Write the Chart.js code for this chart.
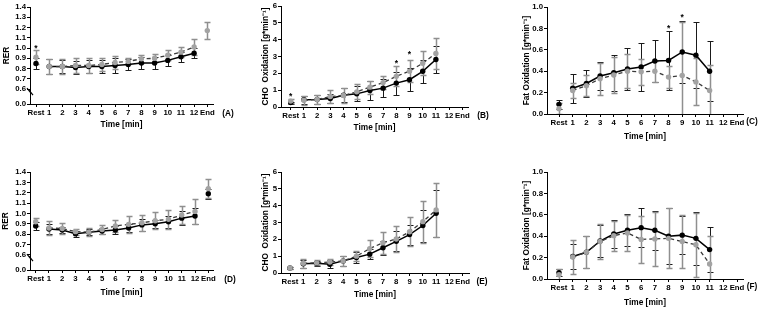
<!DOCTYPE html>
<html>
<head>
<meta charset="utf-8">
<script src="https://cdn.jsdelivr.net/npm/chart.js@4.4.1/dist/chart.umd.min.js"></script>
<style>
  html, body { margin: 0; padding: 0; background: #fff; }
  #wrap { position: relative; width: 760px; height: 310px; overflow: hidden; }
  .panel { position: absolute; }
</style>
</head>
<body>
<div id="wrap"></div>
<script>
// categories on the x axis (same for every panel)
const TIME_LABELS = ['Rest', '1', '2', '3', '4', '5', '6', '7', '8', '9', '10', '11', '12', 'End'];

// y axis ticks
const RER_TICKS = [0.0, 0.6, 0.7, 0.8, 0.9, 1.0, 1.1, 1.2, 1.3, 1.4];
const RER_BREAK = 0.455;          // axis is broken: "0.0" sits here
const CHO_TICKS = [0, 1, 2, 3, 4, 5, 6];
const FAT_TICKS = [0.0, 0.2, 0.4, 0.6, 0.8, 1.0];

// (A) RER, first row
const rerA_black   = [0.85, 0.82, 0.82, 0.81, 0.82, 0.82, 0.83, 0.84, 0.855, 0.855, 0.88, 0.915, 0.95, null];
const rerA_blackSd = [0.05, 0.07, 0.06, 0.06, 0.06, 0.06, 0.07, 0.05, 0.06, 0.06, 0.05, 0.05, 0.05, null];
const rerA_gray    = [0.91, 0.82, 0.82, 0.83, 0.83, 0.84, 0.86, 0.87, 0.895, 0.90, 0.93, 0.96, 1.01, 1.17];
const rerA_graySd  = [0.07, 0.07, 0.07, 0.07, 0.07, 0.06, 0.06, 0.03, 0.04, 0.04, 0.05, 0.05, 0.08, 0.08];
const starsA_idx = [0];
const starsA_y   = [1.01];

// (B) CHO oxidation, first row
const choB_black   = [0.26, 0.43, 0.45, 0.50, 0.70, 0.78, 0.98, 1.12, 1.42, 1.62, 2.12, 2.82, null, null];
const choB_blackSd = [0.06, 0.25, 0.25, 0.25, 0.40, 0.45, 0.55, 0.55, 0.68, 0.68, 0.68, 0.82, null, null];
const choB_gray    = [0.35, 0.40, 0.45, 0.62, 0.68, 0.90, 1.18, 1.45, 1.82, 2.13, 2.60, 3.18, null, null];
const choB_graySd  = [0.12, 0.28, 0.28, 0.38, 0.42, 0.45, 0.38, 0.40, 0.60, 0.65, 0.72, 0.90, null, null];
const starsB_idx = [0, 8, 9];
const starsB_y   = [0.75, 2.68, 3.25];

// (C) Fat oxidation, first row
const fatC_black   = [0.09, 0.24, 0.285, 0.355, 0.385, 0.42, 0.44, 0.495, 0.50, 0.58, 0.55, 0.40, null, null];
const fatC_blackSd = [0.045, 0.135, 0.125, 0.135, 0.17, 0.195, 0.225, 0.20, 0.28, 0.29, 0.31, 0.28, null, null];
const fatC_gray    = [0.05, 0.22, 0.265, 0.33, 0.365, 0.40, 0.395, 0.40, 0.345, 0.36, 0.30, 0.22, null, null];
const fatC_graySd  = [0.05, 0.07, 0.10, 0.15, 0.17, 0.16, 0.12, 0.10, 0.10, 0.50, 0.22, 0.24, null, null];
const starsC_idx = [8, 9];
const starsC_y   = [0.82, 0.915];

// (D) RER, second row
const rerD_black   = [0.88, 0.85, 0.84, 0.805, 0.82, 0.83, 0.84, 0.86, 0.89, 0.90, 0.92, 0.955, 0.975, 1.19];
const rerD_blackSd = [0.04, 0.05, 0.03, 0.03, 0.03, 0.03, 0.04, 0.04, 0.06, 0.04, 0.06, 0.07, 0.08, 0.05];
const rerD_gray    = [0.92, 0.86, 0.855, 0.825, 0.82, 0.845, 0.88, 0.895, 0.91, 0.93, 0.945, 0.985, 1.02, 1.24];
const rerD_graySd  = [0.04, 0.07, 0.05, 0.03, 0.04, 0.04, 0.06, 0.08, 0.08, 0.08, 0.09, 0.09, 0.12, 0.09];

// (E) CHO oxidation, second row
const choE_black   = [0.30, 0.55, 0.58, 0.52, 0.72, 0.92, 1.12, 1.50, 1.88, 2.28, 2.82, 3.55, null, null];
const choE_blackSd = [0.05, 0.25, 0.15, 0.25, 0.30, 0.30, 0.30, 0.42, 0.60, 0.60, 0.95, 1.40, null, null];
const choE_gray    = [0.30, 0.58, 0.60, 0.65, 0.72, 1.00, 1.45, 1.80, 2.02, 2.45, 3.05, 3.75, null, null];
const choE_graySd  = [0.05, 0.28, 0.15, 0.20, 0.30, 0.30, 0.50, 0.65, 0.80, 0.85, 1.25, 1.62, null, null];

// (F) Fat oxidation, second row
const fatF_black   = [0.06, 0.21, 0.25, 0.355, 0.42, 0.455, 0.48, 0.455, 0.40, 0.41, 0.38, 0.275, null, null];
const fatF_blackSd = [0.03, 0.12, 0.15, 0.15, 0.13, 0.15, 0.18, 0.18, 0.26, 0.18, 0.25, 0.21, null, null];
const fatF_gray    = [0.04, 0.205, 0.25, 0.35, 0.405, 0.43, 0.37, 0.375, 0.38, 0.35, 0.32, 0.14, null, null];
const fatF_graySd  = [0.05, 0.16, 0.15, 0.16, 0.14, 0.17, 0.22, 0.25, 0.28, 0.25, 0.30, 0.26, null, null];

const FONT = "'Liberation Sans', Arial, sans-serif";
const BLACK = '#000000';
const GRAY = '#a3a3a3';
const TICK_SIZE = 7.8;
const TITLE_SIZE = 8.3;

// error bars are drawn under the lines, through the chart's own scales
const errorBars = {
    id: 'errorBars',
    beforeDatasetsDraw(chart) {
        const { ctx, chartArea: a, scales: { x, y } } = chart;
        ctx.save();
        ctx.beginPath();
        ctx.rect(a.left, a.top - 1, a.right - a.left, a.bottom - a.top + 1);
        ctx.clip();
        chart.data.datasets.forEach(ds => {
            if (!ds.sd) return;
            ctx.strokeStyle = ds.barColor;
            ctx.lineWidth = ds.barWidth;
            ds.means.forEach((m, i) => {
                const s = ds.sd[i];
                if (m == null || s == null) return;
                const px = Math.round(x.getPixelForValue(i)) + 0.5;
                const top = Math.round(y.getPixelForValue(m + s)) + 0.5;
                const bot = Math.round(y.getPixelForValue(m - s)) + 0.5;
                ctx.beginPath();
                ctx.moveTo(px, top); ctx.lineTo(px, bot);
                ctx.moveTo(px - 3, top); ctx.lineTo(px + 3, top);
                ctx.moveTo(px - 3, bot); ctx.lineTo(px + 3, bot);
                ctx.stroke();
            });
        });
        ctx.restore();
    }
};

// asterisks, axis break mark and the panel letter
const decorations = {
    id: 'decorations',
    afterDraw(chart) {
        const { ctx, chartArea: a, scales: { x, y } } = chart;
        const p = chart.options.plugins.decorations;
        ctx.save();
        ctx.fillStyle = '#000';
        ctx.font = `bold 8.5px ${FONT}`;
        ctx.textAlign = 'center';
        ctx.textBaseline = 'middle';
        (p.starIdx || []).forEach((idx, k) => {
            ctx.fillText('*', x.getPixelForValue(idx), y.getPixelForValue(p.starY[k]) + 2);
        });
        if (p.broken) {
            const yb = y.getPixelForValue(0.58);
            ctx.strokeStyle = '#000';
            ctx.lineWidth = 1.2;
            ctx.beginPath();
            ctx.moveTo(a.left - 3, yb - 3); ctx.lineTo(a.left + 1, yb + 2);
            ctx.moveTo(a.left - 1, yb - 1); ctx.lineTo(a.left + 3, yb + 4);
            ctx.stroke();
        }
        ctx.font = `bold ${TITLE_SIZE}px ${FONT}`;
        ctx.fillText(p.letter, p.letterX, p.letterY);
        ctx.restore();
    }
};

const PANELS = [
    { letter: '(A)', left: 0,   top: 0,   w: 250, h: 150, l: 30, r: 213, t: 7,  b: 104, rest: 36,   end: 207.3, titleY: 125, yTitleX: 7,  lx: 228, ly: 114,
      kind: 'rer', black: rerA_black, blackSd: rerA_blackSd, gray: rerA_gray, graySd: rerA_graySd, starIdx: starsA_idx, starY: starsA_y },
    { letter: '(B)', left: 250, top: 0,   w: 250, h: 150, l: 31, r: 218, t: 6,  b: 107, rest: 40.7, end: 212.3, titleY: 128, yTitleX: 16, lx: 233, ly: 116,
      kind: 'cho', black: choB_black, blackSd: choB_blackSd, gray: choB_gray, graySd: choB_graySd, starIdx: starsB_idx, starY: starsB_y },
    { letter: '(C)', left: 500, top: 0,   w: 260, h: 150, l: 47, r: 243, t: 7,  b: 114, rest: 59,   end: 237,   titleY: 137, yTitleX: 27, lx: 252, ly: 122,
      kind: 'fat', black: fatC_black, blackSd: fatC_blackSd, gray: fatC_gray, graySd: fatC_graySd, starIdx: starsC_idx, starY: starsC_y },
    { letter: '(D)', left: 0,   top: 150, w: 250, h: 160, l: 30, r: 213, t: 22, b: 120, rest: 35.7, end: 208.3, titleY: 142.7, yTitleX: 6, lx: 230, ly: 130,
      kind: 'rer', black: rerD_black, blackSd: rerD_blackSd, gray: rerD_gray, graySd: rerD_graySd },
    { letter: '(E)', left: 250, top: 150, w: 250, h: 160, l: 31, r: 219, t: 22, b: 123, rest: 40,   end: 212.7, titleY: 145, yTitleX: 16, lx: 232, ly: 132,
      kind: 'cho', black: choE_black, blackSd: choE_blackSd, gray: choE_gray, graySd: choE_graySd },
    { letter: '(F)', left: 500, top: 150, w: 260, h: 160, l: 47, r: 243, t: 22, b: 129, rest: 59,   end: 237,   titleY: 153, yTitleX: 27, lx: 252, ly: 137,
      kind: 'fat', black: fatF_black, blackSd: fatF_blackSd, gray: fatF_gray, graySd: fatF_graySd }
];

function yAxisFor(kind) {
    if (kind === 'rer') return {
        min: RER_BREAK, max: 1.4, title: 'RER',
        ticks: RER_TICKS.map(v => v === 0 ? RER_BREAK : v),
        label: v => v <= RER_BREAK + 1e-6 ? '0.0' : v.toFixed(1)
    };
    if (kind === 'cho') return {
        min: 0, max: 6, title: 'CHO  Oxidation [g*min\u207B\u00B9]',
        ticks: CHO_TICKS, label: v => String(v)
    };
    return {
        min: 0, max: 1, title: 'Fat Oxidation [g*min\u207B\u00B9]',
        ticks: FAT_TICKS, label: v => v.toFixed(1)
    };
}

// the line joins 1..12 only; Rest and End stand alone
const lineSegment = color => ({
    borderColor: c => (c.p0DataIndex === 0 || c.p1DataIndex === TIME_LABELS.length - 1) ? 'rgba(0,0,0,0)' : color
});

PANELS.forEach(p => {
    const div = document.createElement('div');
    div.className = 'panel';
    div.style.left = p.left + 'px';
    div.style.top = p.top + 'px';
    div.style.width = p.w + 'px';
    div.style.height = p.h + 'px';
    const canvas = document.createElement('canvas');
    canvas.width = p.w;
    canvas.height = p.h;
    div.appendChild(canvas);
    document.getElementById('wrap').appendChild(div);

    const ya = yAxisFor(p.kind);
    const step = (p.end - p.rest) / (TIME_LABELS.length - 1);
    const xMin = -(p.rest - p.l) / step;
    const xMax = (TIME_LABELS.length - 1) + (p.r - p.end) / step;
    const toXY = arr => arr.map((v, i) => ({ x: i, y: v }));
    const titleLine = TITLE_SIZE * 1.2;

    new Chart(canvas, {
        type: 'line',
        data: {
            datasets: [
                {
                    label: 'black', data: toXY(p.black), means: p.black, sd: p.blackSd,
                    barColor: '#1a1a1a', barWidth: 1,
                    borderColor: BLACK, borderWidth: 1.5, backgroundColor: BLACK,
                    pointRadius: 2.7, pointBackgroundColor: BLACK, pointBorderWidth: 0,
                    segment: lineSegment(BLACK), spanGaps: false, tension: 0, order: 1
                },
                {
                    label: 'gray', data: toXY(p.gray), means: p.gray, sd: p.graySd,
                    barColor: '#8f8f8f', barWidth: 1.5,
                    borderColor: '#3a3a3a', borderWidth: 1.3, borderDash: [4, 3], backgroundColor: GRAY,
                    pointRadius: 2.7, pointBackgroundColor: GRAY, pointBorderWidth: 0,
                    segment: lineSegment('#3a3a3a'), spanGaps: false, tension: 0, order: 0
                }
            ]
        },
        options: {
            responsive: false,
            animation: false,
            events: [],
            layout: { padding: { left: 0, top: p.t, right: p.w - p.r, bottom: p.h - (p.titleY + titleLine / 2) } },
            plugins: {
                legend: { display: false },
                tooltip: { enabled: false },
                decorations: { letter: p.letter, letterX: p.lx, letterY: p.ly, starIdx: p.starIdx, starY: p.starY, broken: p.kind === 'rer' }
            },
            scales: {
                x: {
                    type: 'linear', min: xMin, max: xMax,
                    afterBuildTicks: s => { s.ticks = TIME_LABELS.map((_, i) => ({ value: i })); },
                    afterFit: s => { s.height = p.titleY + titleLine / 2 - p.b; },
                    ticks: { autoSkip: false, maxRotation: 0, padding: 1, color: '#000', font: { family: FONT, size: TICK_SIZE, weight: 'bold' },
                             callback: v => TIME_LABELS[v] },
                    grid: { display: true, drawOnChartArea: false, drawTicks: true, tickLength: 3, color: '#000' },
                    border: { display: true, color: '#000', width: 1 },
                    title: { display: true, text: 'Time [min]', color: '#000', padding: { top: 0, bottom: 0 },
                             font: { family: FONT, size: TITLE_SIZE, weight: 'bold' } }
                },
                y: {
                    type: 'linear', min: ya.min, max: ya.max,
                    afterBuildTicks: s => { s.ticks = ya.ticks.map(v => ({ value: v })); },
                    afterFit: s => { s.width = p.l; },
                    ticks: { autoSkip: false, padding: 1, color: '#000', font: { family: FONT, size: TICK_SIZE, weight: 'bold' }, callback: v => ya.label(v) },
                    grid: { display: true, drawOnChartArea: false, drawTicks: true, tickLength: 3, color: '#000' },
                    border: { display: true, color: '#000', width: 1 },
                    title: { display: true, text: ya.title, color: '#000', padding: { top: p.yTitleX - titleLine / 2, bottom: 0 },
                             font: { family: FONT, size: TITLE_SIZE, weight: 'bold' } }
                }
            }
        },
        plugins: [errorBars, decorations]
    });
});
</script>
</body>
</html>
